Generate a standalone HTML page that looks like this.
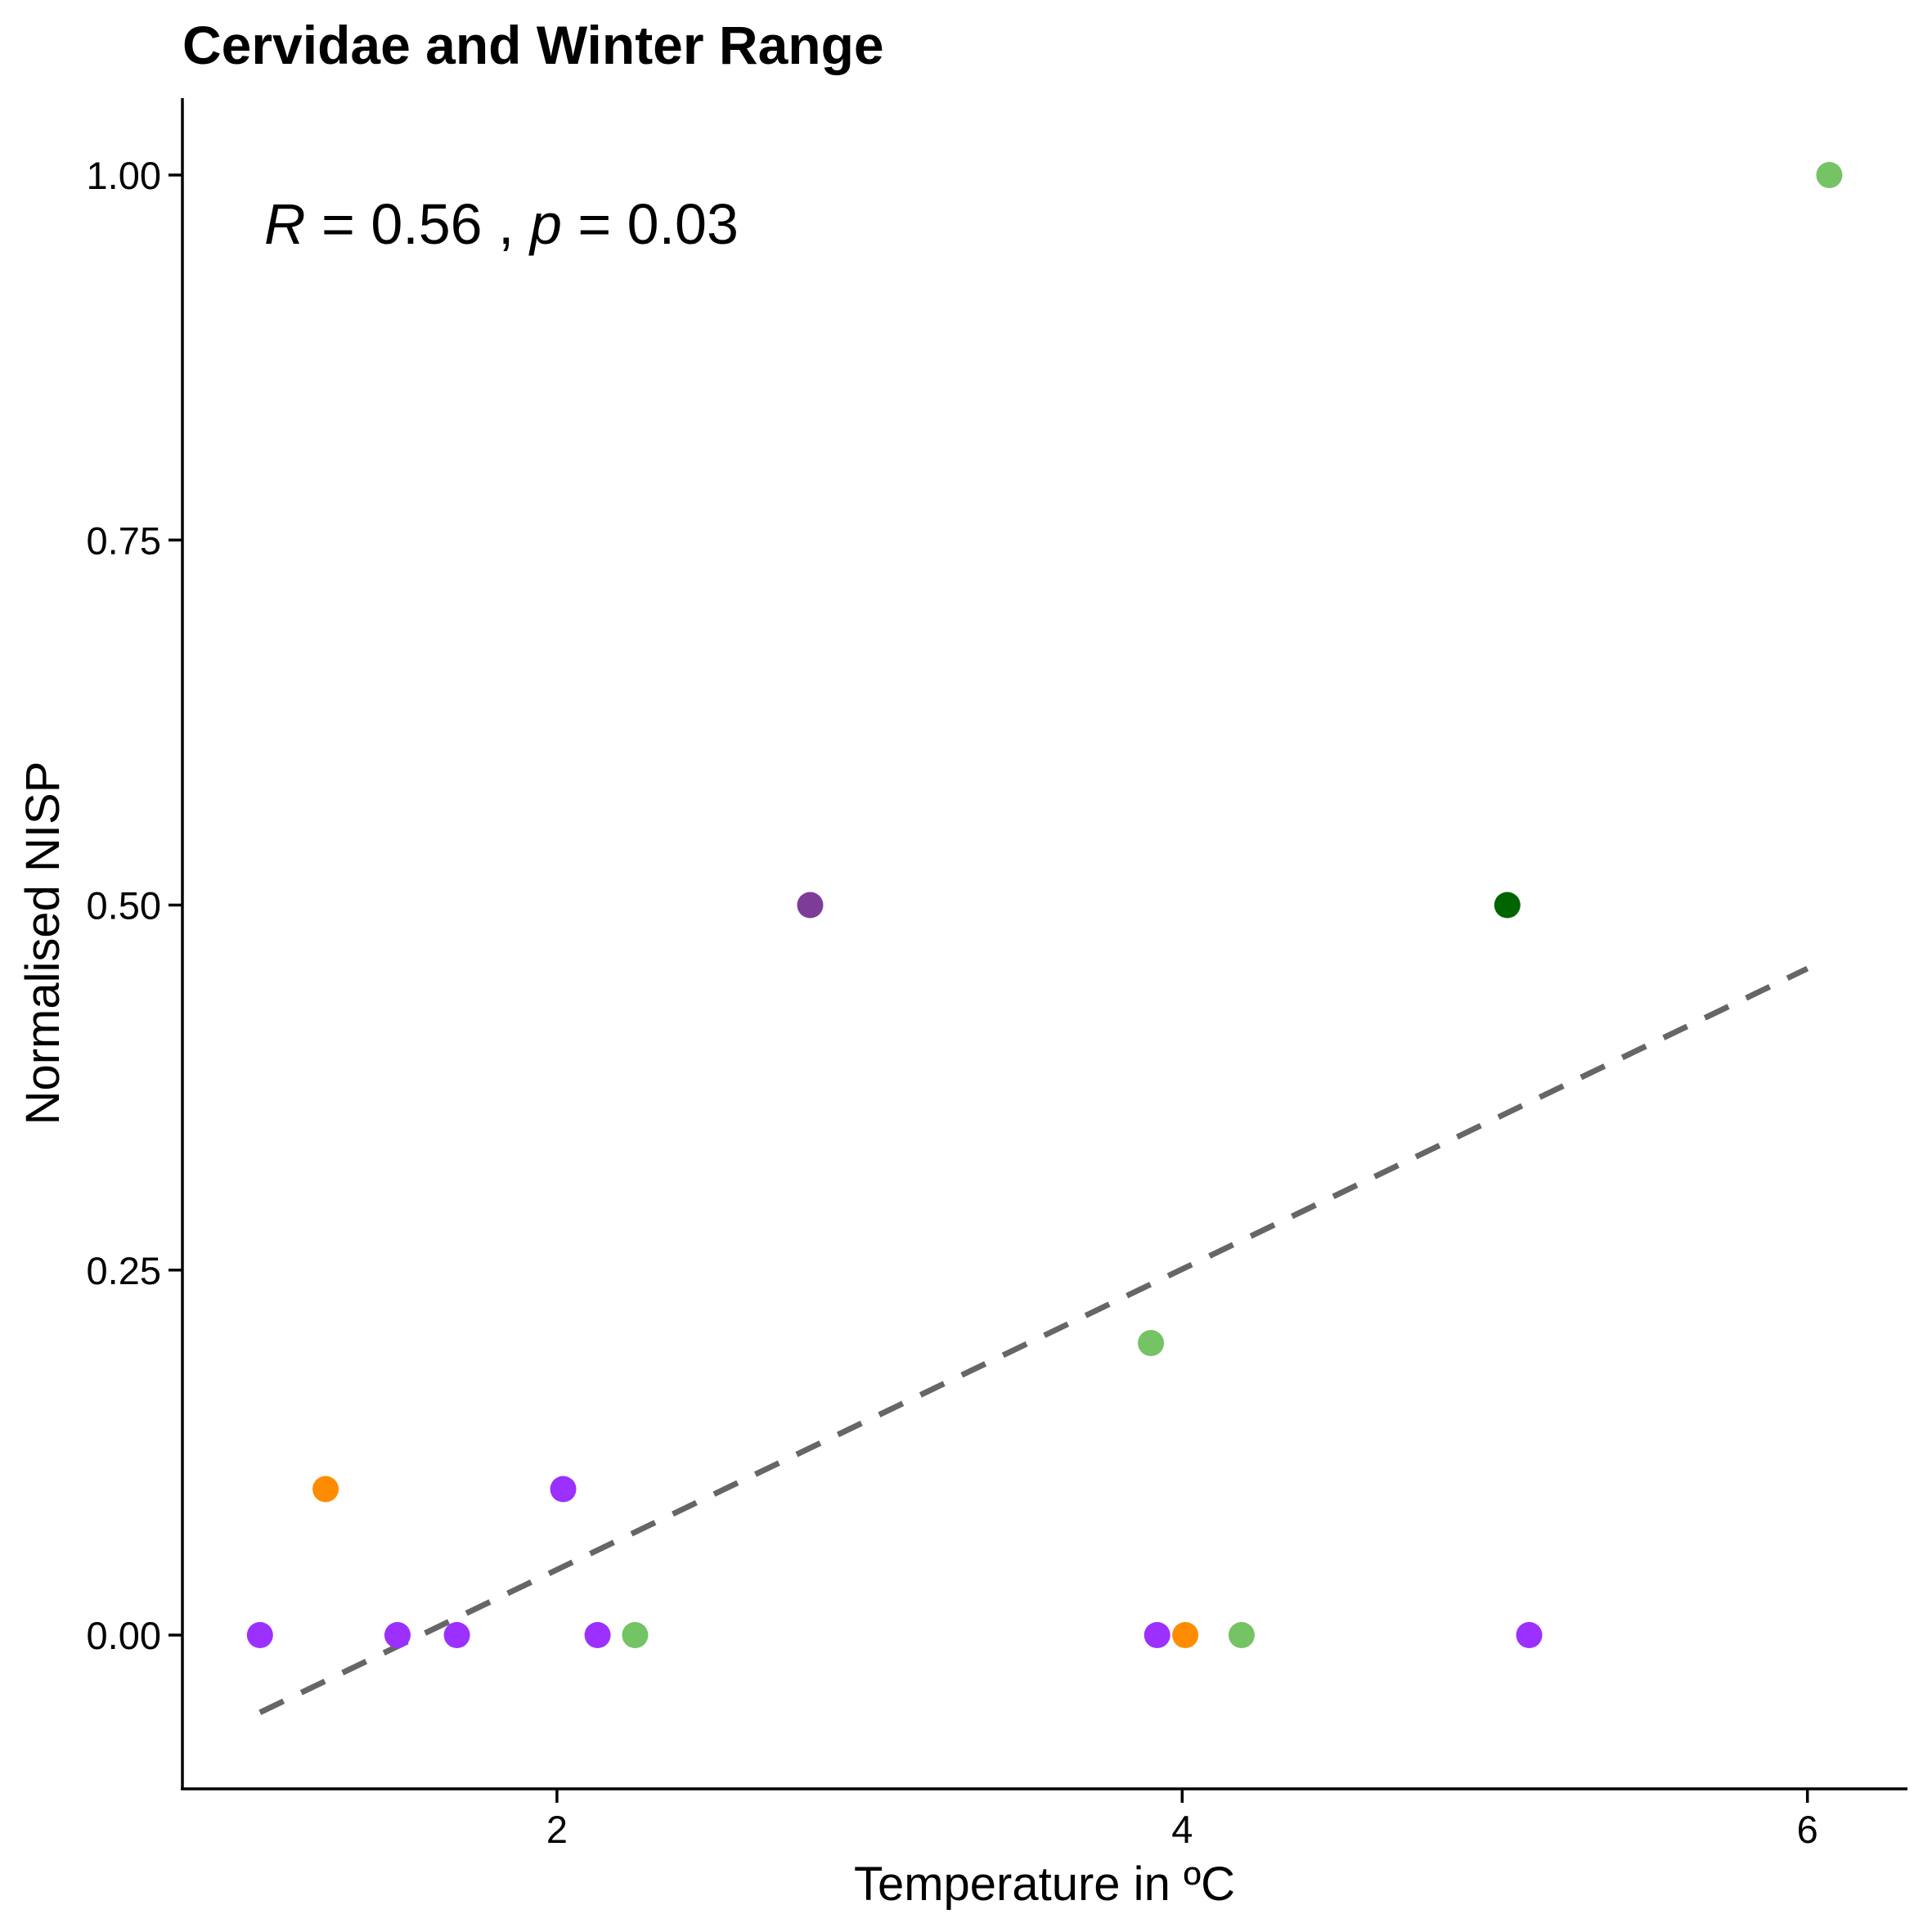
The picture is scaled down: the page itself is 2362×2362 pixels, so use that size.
<!DOCTYPE html>
<html><head><meta charset="utf-8"><style>
html,body{margin:0;padding:0;background:#fff;}
svg{display:block;font-family:"Liberation Sans",Arial,sans-serif;}
</style></head><body>
<svg id="chart" width="2362" height="2362" viewBox="0 0 2362 2362" xmlns="http://www.w3.org/2000/svg">
<text x="223" y="78" font-size="66" font-weight="bold">Cervidae and Winter Range</text>
<g id="axes"></g>
<g id="trend"></g>
<g id="points"></g>
<text x="323" y="298" font-size="70"><tspan font-style="italic">R</tspan> = 0.56 , <tspan font-style="italic">p</tspan> = 0.03</text>
<text x="1277" y="2323" font-size="58" text-anchor="middle">Temperature in ºC</text>
<text transform="translate(72,1153) rotate(-90)" font-size="58" text-anchor="middle">Normalised NISP</text>
</svg>
<script>
const xs = [1.05,1.26,1.49,1.68,2.02,2.13,2.25,2.81,3.90,3.92,4.01,4.19,5.04,5.11,6.07];
const ys = [0,0.1,0,0,0.1,0,0,0.5,0.2,0,0,0,0.5,0,1.0];
const groups = ["purple","orange","purple","purple","purple","purple","green","darkpurple","green","purple","orange","green","darkgreen","purple","green"];
const xTicks = [2,4,6];
const yTicks = [0,0.25,0.5,0.75,1.0];
const yTickLabels = ["0.00","0.25","0.50","0.75","1.00"];
const trendX = [1.05,6.0];
const trendY = [-0.053,0.4565];

const colors = {purple:"#9B30FF",orange:"#FF8C00",green:"#74C365",darkpurple:"#7D3C98",darkgreen:"#006400"};
const NS="http://www.w3.org/2000/svg";
function X(v){return 680.9+(v-2)*382.2;}
function Y(v){return 1999-v*1785;}
function mk(t,a,p){const e=document.createElementNS(NS,t);for(const k in a)e.setAttribute(k,a[k]);p.appendChild(e);return e;}
const axes=document.getElementById('axes');
let e=mk('line',{x1:223,y1:120,x2:223,y2:2188,stroke:'#000','stroke-width':3.5},axes);


e=mk('line',{x1:221,y1:2187,x2:2332,y2:2187,stroke:'#000','stroke-width':3.5},axes);


xTicks.forEach(v=>{
  let t=mk('line',{x1:X(v),y1:2187,x2:X(v),y2:2204,stroke:'#000','stroke-width':3.5},axes);
  
  
  let l=mk('text',{x:X(v),y:2253,'font-size':47,'text-anchor':'middle'},axes);
  l.textContent=v;
  
  
});
yTicks.forEach((v,i)=>{
  let t=mk('line',{x1:206,y1:Y(v),x2:223,y2:Y(v),stroke:'#000','stroke-width':3.5},axes);
  
  
  let l=mk('text',{x:197,y:Y(v)+17,'font-size':47,'text-anchor':'end'},axes);
  l.textContent=yTickLabels[i];
  
  
});
const tr=mk('line',{x1:X(trendX[0]),y1:Y(trendY[0]),x2:X(trendX[1]),y2:Y(trendY[1]),stroke:'#666','stroke-width':7,'stroke-dasharray':'32 24'},document.getElementById('trend'));


const pg=document.getElementById('points');
xs.forEach((x,i)=>{
  const c=mk('circle',{cx:X(x),cy:Y(ys[i]),r:16,fill:colors[groups[i]]},pg);
  
  
});
</script>
</body></html>
